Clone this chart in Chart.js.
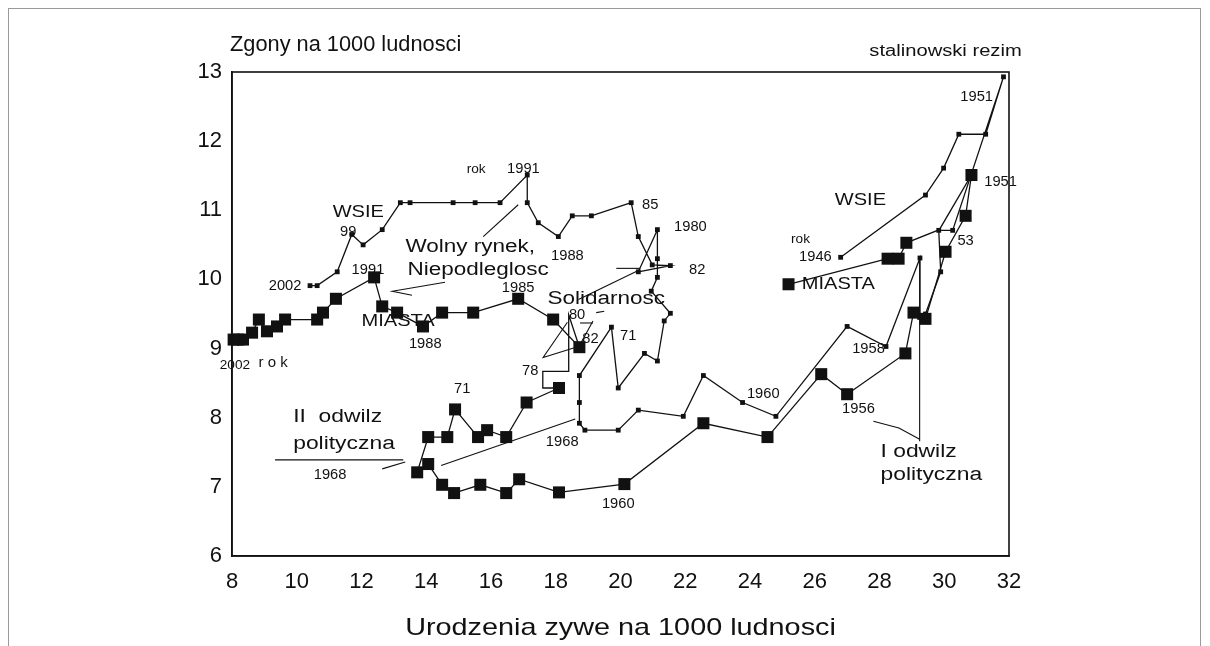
<!DOCTYPE html>
<html><head><meta charset="utf-8">
<script src="https://cdn.jsdelivr.net/npm/chart.js@4/dist/chart.umd.min.js"></script>
<style>
html,body{margin:0;padding:0;background:#fff;}
#wrap{position:relative;width:1210px;height:646px;}
#frame{position:absolute;left:8px;top:8px;width:1191px;height:660px;border:1px solid #9a9a9a;}
canvas{position:absolute;left:0;top:0;}
</style></head>
<body><div id="wrap"><div id="frame"></div><canvas id="c" width="1210" height="646"></canvas></div>
<script>
// ---- data (births per 1000 = x, deaths per 1000 = y), 1946 -> 2002 ----
const wsieBirths = [26.8,29.42,29.98,30.45,31.28,31.83,30.26,29.83,29.89,29.42,29.24,29.25,28.2,27.0,24.8,23.77,22.56,21.94,20.55,19.93,18.9,18.73,18.73,18.73,19.72,19.93,20.74,21.14,21.35,21.54,20.95,21.14,21.14,21.14,20.55,21.54,20.98,20.55,20.33,19.1,18.51,18.08,17.46,17.12,17.12,16.28,15.51,14.83,13.5,13.2,12.64,12.05,11.7,11.25,10.63,10.41];
const wsieDeaths = [10.32,11.22,11.61,12.1,12.1,12.93,10.71,10.71,10.11,9.5,9.45,10.31,9.03,9.32,8.02,8.22,8.61,8.02,8.11,7.82,7.82,7.92,8.22,8.61,9.31,8.43,8.93,8.82,9.4,9.51,9.83,10.03,10.3,10.72,10.11,10.2,10.21,10.62,11.11,10.92,10.92,10.62,10.82,11.11,11.51,11.11,11.11,11.11,11.11,11.11,10.72,10.5,10.65,10.11,9.91,9.91];
const miastaBirths = [25.19,28.25,28.59,28.83,29.85,30.84,30.66,30.04,29.42,29.05,28.8,27.0,26.2,24.54,22.56,20.12,18.1,16.87,16.47,15.67,14.86,14.49,14.06,13.72,14.06,14.65,14.89,15.6,15.88,16.47,17.1,18.1,17.6,17.6,18.4,18.4,18.73,17.92,16.84,15.45,14.49,13.9,13.1,12.64,12.39,11.21,10.81,10.63,9.64,9.39,9.08,8.83,8.62,8.34,8.19,8.05];
const miastaDeaths = [9.93,10.3,10.3,10.53,10.72,11.51,10.92,10.4,9.43,9.52,8.93,8.34,8.63,7.72,7.92,7.04,6.92,7.11,6.91,7.03,6.91,7.03,7.33,7.21,7.72,7.72,8.12,7.72,7.82,7.72,8.22,8.43,8.43,8.67,8.67,9.49,9.02,9.42,9.72,9.52,9.52,9.32,9.52,9.61,10.03,9.72,9.52,9.42,9.42,9.32,9.25,9.42,9.23,9.13,9.13,9.13];
const miastaNoMarker = [4,32,33,34,35];
const xTicks = [8,10,12,14,16,18,20,22,24,26,28,30,32];
const yTicks = [6,7,8,9,10,11,12,13];
const xTitle = 'Urodzenia zywe na 1000 ludnosci';
const yTitle = 'Zgony na 1000 ludnosci';

// annotation pointer lines (data coordinates)
const pointerLines = [
  [[15.76,10.62],[16.84,11.08]],
  [[14.58,9.96],[12.95,9.83],[13.56,9.77]],
  [[18.7,9.71],[20.55,10.13]],
  [[19.87,10.16],[20.61,10.16]],
  [[18.36,9.38],[17.61,8.87],[18.7,9.03]],
  [[18.73,9.04],[19.15,9.40]],
  [[18.75,9.37],[19.15,9.37]],
  [[19.25,9.52],[19.5,9.54]],
  [[9.33,7.39],[13.29,7.39]],
  [[12.64,7.26],[13.35,7.36]],
  [[14.46,7.31],[18.6,7.98]],
  [[29.24,10.32],[29.24,7.66]],
  [[27.81,7.95],[28.6,7.85],[29.24,7.69]]
];
// annotation texts: [text, x, y, kind]
const annoTexts = [
  ['stalinowski rezim',30.04,13.29,'top'],
  ['1951',31.0,12.64,'num'],
  ['WSIE',27.41,11.15,'name'],
  ['rok',25.56,10.58,'small'],
  ['1946',26.02,10.32,'num'],
  ['MIASTA',26.73,9.93,'name'],
  ['53',30.66,10.55,'num'],
  ['1951',31.74,11.41,'num'],
  ['1958',27.66,8.99,'num'],
  ['1956',27.35,8.12,'num'],
  ['I odwilz',28.03,7.5,'bigL'],
  ['polityczna',28.03,7.17,'bigL'],
  ['1960',24.41,8.34,'num'],
  ['1960',19.93,6.75,'num'],
  ['1968',18.2,7.65,'num'],
  ['71',20.24,9.18,'num'],
  ['71',15.11,8.41,'num'],
  ['II  odwilz',9.89,8.01,'bigL'],
  ['polityczna',9.89,7.62,'bigL'],
  ['1968',11.03,7.17,'num'],
  ['82',22.37,10.14,'num'],
  ['1980',22.16,10.75,'num'],
  ['85',20.92,11.07,'num'],
  ['1988',18.36,10.33,'num'],
  ['rok',15.54,11.59,'small'],
  ['1991',17.0,11.59,'num'],
  ['Wolny rynek,',15.36,10.47,'big'],
  ['Niepodleglosc',15.6,10.14,'big'],
  ['1991',12.2,10.14,'num'],
  ['1985',16.84,9.88,'num'],
  ['Solidarnosc',19.56,9.71,'big'],
  ['80',18.66,9.49,'num'],
  ['82',19.07,9.13,'num'],
  ['78',17.21,8.67,'num'],
  ['WSIE',11.9,10.97,'name'],
  ['99',11.59,10.68,'num'],
  ['2002',9.64,9.9,'num'],
  ['MIASTA',13.13,9.39,'name'],
  ['1988',13.97,9.06,'num'],
  ['2002',8.09,8.76,'small'],
  ['r o k',9.27,8.8,'rok']
];
const textStyles = {
  top:   {size: 16, stretch: 1.26, align: 'center'},
  num:   {size: 14, stretch: 1.05, align: 'center'},
  small: {size: 13, stretch: 1.05, align: 'center'},
  name:  {size: 17, stretch: 1.18, align: 'center'},
  big:   {size: 18, stretch: 1.25, align: 'center'},
  bigL:  {size: 18, stretch: 1.27, align: 'left'},
  rok:   {size: 15, stretch: 1.0, align: 'center'}
};

const FONT = '"Liberation Sans", Arial, Helvetica, sans-serif';
const toPts = (xs, ys) => xs.map((x, i) => ({x: x, y: ys[i]}));

const pointerDatasets = pointerLines.map(seg => ({
  type: 'line',
  data: seg.map(p => ({x: p[0], y: p[1]})),
  borderColor: '#111', borderWidth: 1.1, pointRadius: 0, showLine: true, fill: false, tension: 0, clip: false
}));

function drawStretched(ctx, text, x, y, sx, align) {
  ctx.save();
  ctx.translate(x, y);
  ctx.scale(sx, 1);
  ctx.textAlign = align;
  ctx.fillText(text, 0, 0);
  ctx.restore();
}

const framePlugin = {
  id: 'frameAndText',
  afterDatasetsDraw(chart) {
    const ctx = chart.ctx, a = chart.chartArea;
    const xs = chart.scales.x, ys = chart.scales.y;
    ctx.save();
    ctx.strokeStyle = '#111';
    ctx.lineWidth = 1.6;
    ctx.strokeRect(a.left, a.top, a.right - a.left, a.bottom - a.top);
    ctx.fillStyle = '#111';
    ctx.textBaseline = 'middle';
    annoTexts.forEach(t => {
      const st = textStyles[t[3]];
      ctx.font = st.size + 'px ' + FONT;
      drawStretched(ctx, t[0], xs.getPixelForValue(t[1]), ys.getPixelForValue(t[2]), st.stretch, st.align);
    });
    ctx.font = '22px ' + FONT;
    drawStretched(ctx, yTitle, a.left - 2, a.top - 27, 0.99, 'left');
    ctx.font = '24px ' + FONT;
    drawStretched(ctx, xTitle, (a.left + a.right) / 2, a.bottom + 72, 1.2, 'center');
    ctx.restore();
  }
};

new Chart(document.getElementById('c'), {
  type: 'scatter',
  data: {
    datasets: [
      {
        label: 'WSIE', data: toPts(wsieBirths, wsieDeaths), showLine: true,
        borderColor: '#111', borderWidth: 1.3, tension: 0,
        pointStyle: 'rect', pointRadius: 3.4, pointBackgroundColor: '#111', pointBorderWidth: 0, clip: false
      },
      {
        label: 'MIASTA', data: toPts(miastaBirths, miastaDeaths), showLine: true,
        borderColor: '#111', borderWidth: 1.3, tension: 0,
        pointStyle: 'rect',
        pointRadius: c => miastaNoMarker.includes(c.dataIndex) ? 0 : 8.5,
        pointBackgroundColor: '#111', pointBorderWidth: 0, clip: false
      },
      ...pointerDatasets
    ]
  },
  options: {
    responsive: false, animation: false,
    layout: {padding: {top: 72, right: 201, left: 0, bottom: 0}},
    plugins: {legend: {display: false}, tooltip: {enabled: false}, title: {display: false}},
    scales: {
      x: {
        type: 'linear', min: 8, max: 32,
        afterBuildTicks: s => { s.ticks = xTicks.map(v => ({value: v})); },
        afterFit: s => { s.height = 90; },
        grid: {display: false, drawTicks: false},
        border: {display: true, color: '#111', width: 1.6},
        ticks: {color: '#111', font: {size: 22, family: FONT}, padding: 13, maxRotation: 0}
      },
      y: {
        type: 'linear', min: 6, max: 13,
        afterBuildTicks: s => { s.ticks = yTicks.map(v => ({value: v})); },
        afterFit: s => { s.width = 232; },
        grid: {display: false, drawTicks: false},
        border: {display: true, color: '#111', width: 1.6},
        ticks: {color: '#111', font: {size: 22, family: FONT}, padding: 10}
      }
    }
  },
  plugins: [framePlugin]
});
</script></body></html>
